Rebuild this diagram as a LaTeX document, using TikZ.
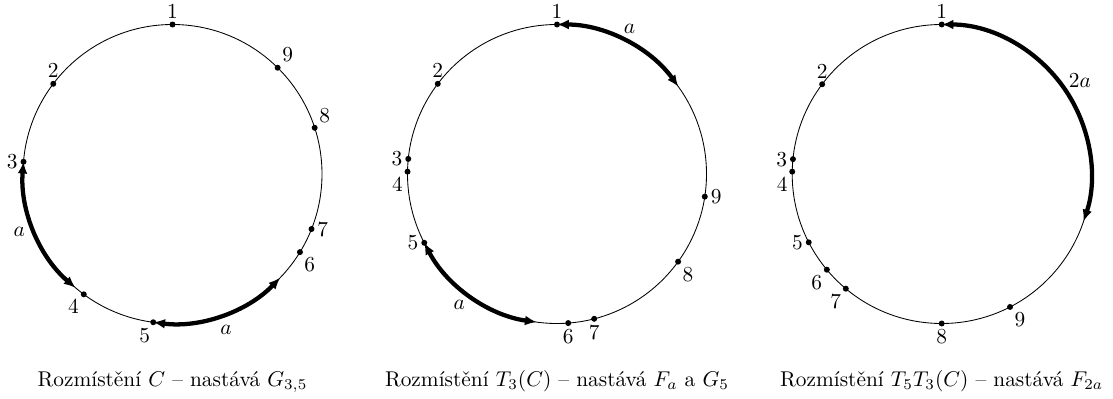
\documentclass[tikz,border=0pt]{standalone}
\usepackage{amsmath,amssymb}
\usepackage{tikz}
\usetikzlibrary{arrows.meta}

\tikzset{
	bod/.style={circle, fill, inner sep=0pt, minimum size=2.8pt},
	cislo/.style={inner sep=1pt},
	oblouk/.style={line width=2pt, {Latex[length=5.5pt,width=4.6pt]}-{Latex[length=5.5pt,width=4.6pt]}},
}

\begin{document}
\begin{tikzpicture}[x=0.468pt, y=0.468pt]
					\useasboundingbox (0,0) rectangle (1113,398);
					% rozmisteni C
					\begin{scope}[shift={(172.5,224)}]
						\coordinate (oA) at (0,0);
						\draw (oA) circle[radius=149.5];
						\node[bod, label={[cislo]above:1}] (A1) at (90:149.5) {};
						\node[bod, label={[cislo]above:2}] (A2) at (142.9:149.5) {};
						\node[bod, label={[cislo]left:3}] (A3) at (175.3:149.5) {};
						\node[bod, label={[cislo]225:4}] (A4) at (233.6:149.5) {};
						\node[bod, label={[cislo]260:5}] (A5) at (262.6:149.5) {};
						\node[bod, label={[cislo]305:6}] (A6) at (328.5:149.5) {};
						\node[bod, label={[cislo]right:7}] (A7) at (338.4:149.5) {};
						\node[bod, label={[cislo]52:8}] (A8) at (18:149.5) {};
						\node[bod, label={[cislo]53:9}] (A9) at (45.3:149.5) {};
						\draw[oblouk] (A3.center) arc[start angle=175.3, delta angle=54.3, radius=149.5];
						\draw[oblouk] (A5.center) arc[start angle=262.6, delta angle=53.5, radius=149.5];
						\node (aA1) at (200.8:164) {$a$};
						\node (aA2) at (288.9:165) {$a$};
						\node[anchor=base] (popisA) at (0,-212.5) {Rozmístění $C$ -- nastává $G_{3,5}$};
					\end{scope}
					% rozmisteni T_3(C)
					\begin{scope}[shift={(557,224)}]
						\coordinate (oB) at (0,0);
						\draw (oB) circle[radius=149.5];
						\node[bod, label={[cislo]above:1}] (B1) at (90:149.5) {};
						\node[bod, label={[cislo]above:2}] (B2) at (142.9:149.5) {};
						\node[bod, label={[cislo]left:3}] (B3) at (174.2:149.5) {};
						\node[bod, label={[cislo]232:4}] (B4) at (179.1:149.5) {};
						\node[bod, label={[cislo]left:5}] (B5) at (207.4:149.5) {};
						\node[bod, label={[cislo]below:6}] (B6) at (274.3:149.5) {};
						\node[bod, label={[cislo]below:7}] (B7) at (284.4:149.5) {};
						\node[bod, label={[cislo]307:8}] (B8) at (324.1:149.5) {};
						\node[bod, label={[cislo]right:9}] (B9) at (351.3:149.5) {};
						\draw[oblouk] (B1.center) arc[start angle=90, delta angle=-54.3, radius=149.5];
						\draw[oblouk] (B5.center) arc[start angle=207.4, delta angle=54.8, radius=149.5];
						\node (aB1) at (63.4:162) {$a$};
						\node (aB2) at (233.3:163.5) {$a$};
						\node[anchor=base] (popisB) at (0,-212.5) {Rozmístění $T_3(C)$ -- nastává $F_a$ a $G_5$};
					\end{scope}
					% rozmisteni T_5T_3(C)
					\begin{scope}[shift={(941.7,224)}]
						\coordinate (oC) at (0,0);
						\draw (oC) circle[radius=149.5];
						\node[bod, label={[cislo]above:1}] (C1) at (90:149.5) {};
						\node[bod, label={[cislo]above:2}] (C2) at (143.1:149.5) {};
						\node[bod, label={[cislo]left:3}] (C3) at (174.3:149.5) {};
						\node[bod, label={[cislo]232:4}] (C4) at (179.1:149.5) {};
						\node[bod, label={[cislo]left:5}] (C5) at (207.2:149.5) {};
						\node[bod, label={[cislo]229:6}] (C6) at (219.8:149.5) {};
						\node[bod, label={[cislo]232:7}] (C7) at (230.1:149.5) {};
						\node[bod, label={[cislo]below:8}] (C8) at (270:149.5) {};
						\node[bod, label={[cislo]304:9}] (C9) at (297.2:149.5) {};
						\draw[oblouk] (C1.center) arc[start angle=90, delta angle=-108.5, radius=149.5];
						\node (aC1) at (34.2:167) {$2a$};
						\node[anchor=base] (popisC) at (0,-212.5) {Rozmístění $T_5T_3(C)$ -- nastává $F_{2a}$};
					\end{scope}
				\end{tikzpicture}
\end{document}
